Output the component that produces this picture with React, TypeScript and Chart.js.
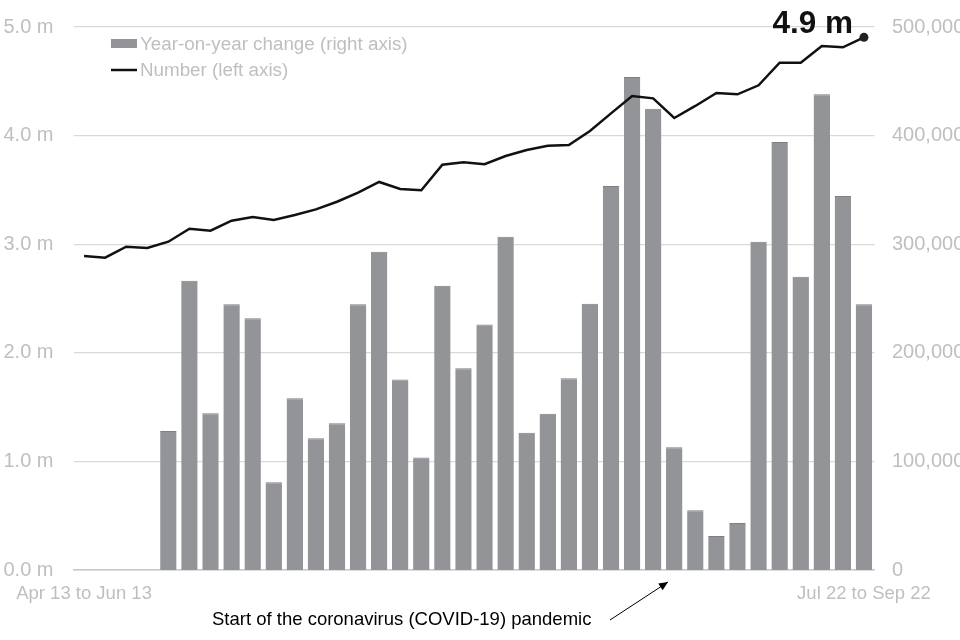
import React, { useEffect, useRef } from "react";
import { Chart, registerables } from "chart.js";

Chart.register(...registerables);

const categories: string[] = [
  "Apr 13 to Jun 13", "Jul 13 to Sep 13", "Oct 13 to Dec 13",
  "Jan 14 to Mar 14", "Apr 14 to Jun 14", "Jul 14 to Sep 14", "Oct 14 to Dec 14",
  "Jan 15 to Mar 15", "Apr 15 to Jun 15", "Jul 15 to Sep 15", "Oct 15 to Dec 15",
  "Jan 16 to Mar 16", "Apr 16 to Jun 16", "Jul 16 to Sep 16", "Oct 16 to Dec 16",
  "Jan 17 to Mar 17", "Apr 17 to Jun 17", "Jul 17 to Sep 17", "Oct 17 to Dec 17",
  "Jan 18 to Mar 18", "Apr 18 to Jun 18", "Jul 18 to Sep 18", "Oct 18 to Dec 18",
  "Jan 19 to Mar 19", "Apr 19 to Jun 19", "Jul 19 to Sep 19", "Oct 19 to Dec 19",
  "Jan 20 to Mar 20", "Apr 20 to Jun 20", "Jul 20 to Sep 20", "Oct 20 to Dec 20",
  "Jan 21 to Mar 21", "Apr 21 to Jun 21", "Jul 21 to Sep 21", "Oct 21 to Dec 21",
  "Jan 22 to Mar 22", "Apr 22 to Jun 22", "Jul 22 to Sep 22",
];

// Number (millions), left axis
const numberMillions: number[] = [
  2.891, 2.876, 2.977, 2.965, 3.023, 3.143, 3.124, 3.216, 3.25, 3.223,
  3.269, 3.321, 3.391, 3.474, 3.573, 3.508, 3.496, 3.732, 3.754, 3.736,
  3.812, 3.867, 3.907, 3.913, 4.042, 4.205, 4.365, 4.343, 4.162, 4.273,
  4.392, 4.38, 4.463, 4.671, 4.671, 4.825, 4.813, 4.905,
];

// Year-on-year change, right axis
const yoyChange: (number | null)[] = [
  null, null, null, null,
  128000, 266400, 144300, 244600, 231700, 80750,
  158100, 121300, 135100, 244600, 293100, 175300, 103700, 261800, 185700, 226000,
  306900, 126400, 143900, 176500, 245200, 353600, 454000, 424800, 113000, 55000,
  31300, 43300, 302300, 394100, 270100, 438000, 344400, 244600,
];

const leftTicks: number[] = [0, 1, 2, 3, 4, 5];
const rightTicks: number[] = [0, 100000, 200000, 300000, 400000, 500000];

const seriesLabels: string[] = ["Year-on-year change (right axis)", "Number (left axis)"];
const highlightLabel = "4.9 m";
const noteLabel = "Start of the coronavirus (COVID-19) pandemic";

const FONT = "'Liberation Sans', Arial, sans-serif";
const GREY_TEXT = "#bfbfbf";
const BAR = "#939498";
const BAR_EDGE = "#7e7f83";

const overlayPlugin = {
  id: "overlay",
  afterDraw(chart: any) {
    const ctx = chart.ctx as CanvasRenderingContext2D;
    ctx.save();
    // legend
    ctx.font = `18.8px ${FONT}`;
    ctx.textBaseline = "middle";
    ctx.textAlign = "left";
    ctx.fillStyle = BAR;
    ctx.fillRect(111, 39, 26, 9);
    ctx.fillStyle = GREY_TEXT;
    ctx.fillText(chart.data.datasets[0].label, 140, 44.5);
    ctx.strokeStyle = "#111111";
    ctx.lineWidth = 2.5;
    ctx.beginPath();
    ctx.moveTo(111, 70);
    ctx.lineTo(137, 70);
    ctx.stroke();
    ctx.fillStyle = GREY_TEXT;
    ctx.fillText(chart.data.datasets[1].label, 140, 70.5);

    // highlight label near last point
    const meta = chart.getDatasetMeta(1);
    const last = meta.data[meta.data.length - 1];
    if (last) {
      ctx.font = `bold 31.5px ${FONT}`;
      ctx.fillStyle = "#111111";
      ctx.textAlign = "right";
      ctx.textBaseline = "alphabetic";
      ctx.fillText(highlightLabel, last.x - 11, last.y - 4);
    }

    // note and arrow
    ctx.font = `18.5px ${FONT}`;
    ctx.fillStyle = "#000000";
    ctx.textAlign = "left";
    ctx.textBaseline = "alphabetic";
    ctx.fillText(noteLabel, 212, 625);
    const x0 = 610, y0 = 620, x1 = 668, y1 = 582;
    ctx.strokeStyle = "#000000";
    ctx.lineWidth = 1;
    ctx.beginPath();
    ctx.moveTo(x0, y0);
    ctx.lineTo(x1, y1);
    ctx.stroke();
    const ang = Math.atan2(y1 - y0, x1 - x0);
    const len = 9, wid = 4;
    ctx.beginPath();
    ctx.moveTo(x1, y1);
    ctx.lineTo(x1 - len * Math.cos(ang) + wid * Math.sin(ang), y1 - len * Math.sin(ang) - wid * Math.cos(ang));
    ctx.lineTo(x1 - len * Math.cos(ang) - wid * Math.sin(ang), y1 - len * Math.sin(ang) + wid * Math.cos(ang));
    ctx.closePath();
    ctx.fillStyle = "#000000";
    ctx.fill();
    ctx.restore();
  },
};

export default function App() {
  const ref = useRef<HTMLCanvasElement | null>(null);
  useEffect(() => {
    if (!ref.current) return;
    const lastIdx = numberMillions.length - 1;
    const chart = new Chart(ref.current, {
      type: "bar",
      data: {
        labels: categories,
        datasets: [
          {
            type: "bar",
            label: seriesLabels[0],
            data: yoyChange as any,
            yAxisID: "y1",
            backgroundColor: BAR,
            borderColor: BAR_EDGE,
            borderWidth: { top: 1, left: 0, right: 0, bottom: 0 } as any,
            borderSkipped: "bottom",
            barPercentage: 0.78,
            categoryPercentage: 1,
            order: 2,
          },
          {
            type: "line",
            label: seriesLabels[1],
            data: numberMillions,
            yAxisID: "y",
            borderColor: "#111111",
            borderWidth: 2.5,
            tension: 0,
            pointRadius: numberMillions.map((_, i) => (i === lastIdx ? 4.5 : 0)),
            pointBackgroundColor: "#222222",
            pointBorderWidth: 0,
            order: 1,
          },
        ],
      },
      options: {
        animation: false,
        responsive: true,
        maintainAspectRatio: false,
        layout: { autoPadding: false, padding: { top: 27, left: 0, right: 0, bottom: 0 } },
        plugins: { legend: { display: false }, tooltip: { enabled: false } },
        scales: {
          x: {
            grid: { display: false, drawTicks: false },
            border: { display: true, color: "#c8c8c8", width: 1.5 },
            ticks: {
              autoSkip: false,
              maxRotation: 0,
              padding: 13,
              color: GREY_TEXT,
              font: { family: FONT, size: 18.5 },
              callback: (_v: any, i: number) => (i === 0 || i === lastIdx ? categories[i] : ""),
            },
            afterFit: (s: any) => { s.height = 70; s.paddingLeft = 0; s.paddingRight = 0; },
          },
          y: {
            position: "left",
            min: 0,
            max: 5,
            afterBuildTicks: (s: any) => { s.ticks = leftTicks.map((v) => ({ value: v })); },
            grid: { color: "#d9d9d9", drawTicks: false, lineWidth: 1.2 },
            border: { display: false },
            ticks: {
              padding: 20,
              color: GREY_TEXT,
              font: { family: FONT, size: 20 },
              callback: (v: any) => `${Number(v).toFixed(1)} m`,
            },
            afterFit: (s: any) => { s.width = 73.5; s.paddingTop = 0; s.paddingBottom = 0; },
          },
          y1: {
            position: "right",
            min: 0,
            max: 500000,
            afterBuildTicks: (s: any) => { s.ticks = rightTicks.map((v) => ({ value: v })); },
            grid: { display: false, drawTicks: false },
            border: { display: false },
            ticks: {
              padding: 17.5,
              color: GREY_TEXT,
              font: { family: FONT, size: 20 },
              callback: (v: any) => Number(v).toLocaleString("en-GB"),
            },
            afterFit: (s: any) => { s.width = 85.5; s.paddingTop = 0; s.paddingBottom = 0; },
          },
        },
      },
      plugins: [overlayPlugin],
    });
    return () => chart.destroy();
  }, []);

  return (
    <div style={{ position: "absolute", left: 0, top: 0, width: 960, height: 640, background: "#ffffff" }}>
      <canvas ref={ref} />
    </div>
  );
}
